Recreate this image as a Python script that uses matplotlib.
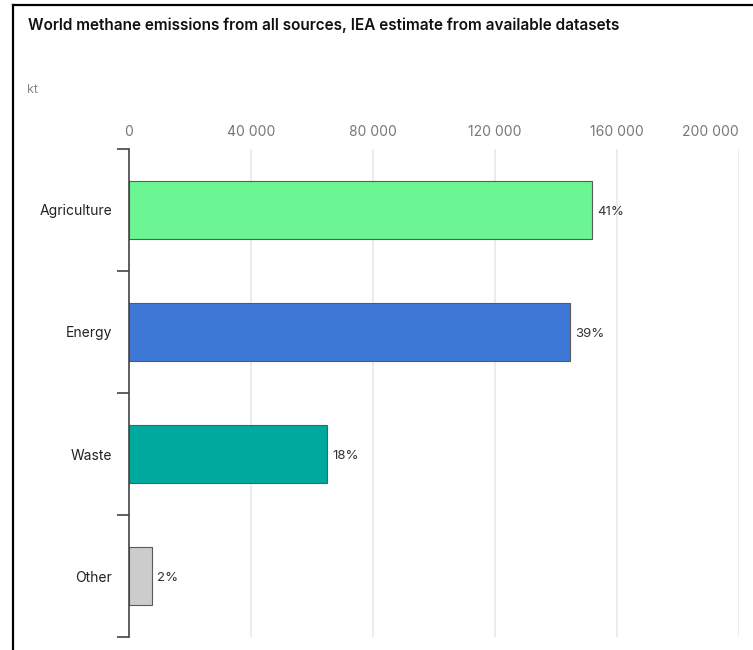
import matplotlib
matplotlib.use("Agg")
import matplotlib.pyplot as plt
from matplotlib.lines import Line2D

plt.rcParams['font.family'] = ['Inter', 'DejaVu Sans']

# Data (kt of methane per source)
categories = ["Agriculture", "Energy", "Waste", "Other"]
emissions_kt = [151700, 144600, 64900, 7400]
shares = ["41%", "39%", "18%", "2%"]
bar_colors = ["#6bf693", "#3d78d6", "#00a99d", "#cccccc"]
x_ticks = [0, 40000, 80000, 120000, 160000, 200000]
x_tick_labels = ["0", "40 000", "80 000", "120 000", "160 000", "200 000"]

W, H = 753, 650
fig = plt.figure(figsize=(W / 100, H / 100), dpi=100)
fig.patch.set_facecolor("white")

left_px, right_px, top_px, bottom_px = 129, 739, 149, 637
ax = fig.add_axes([left_px / W, 1 - bottom_px / H,
                   (right_px - left_px) / W, (bottom_px - top_px) / H])

ypos = list(range(len(categories)))
ax.barh(ypos, emissions_kt, height=0.48, color=bar_colors,
        edgecolor="#5a5a5a", linewidth=0.8, zorder=3)

for y, v, s in zip(ypos, emissions_kt, shares):
    ax.annotate(s, xy=(v, y), xytext=(4, -1.5), textcoords="offset points",
                va="center", ha="left", fontsize=9.5, color="#333333")

ax.set_xlim(0, 200000)
ax.set_ylim(len(categories) - 0.5, -0.5)

# x axis on top, labels only
ax.xaxis.tick_top()
ax.set_xticks(x_ticks)
ax.set_xticklabels(x_tick_labels)
ax.tick_params(axis="x", length=0, pad=7.5, labelsize=10, labelcolor="#777777")
ax.get_xticklabels()[-1].set_horizontalalignment("right")
ax.grid(axis="x", color="#e9e9e9", linewidth=1.2, zorder=0)

# y axis: boundary ticks, category labels in between
ax.set_yticks([i - 0.5 for i in range(len(categories) + 1)])
ax.set_yticklabels([])
ax.tick_params(axis="y", which="major", length=8.5, width=1.2, color="#444444")
ax.set_yticks(ypos, minor=True)
ax.set_yticklabels(categories, minor=True)
ax.tick_params(axis="y", which="minor", length=0, pad=12, labelsize=10,
               labelcolor="#222222")
for lbl in ax.get_yticklabels(minor=True):
    lbl.set_y(lbl.get_position()[1])

for side in ["top", "right", "bottom"]:
    ax.spines[side].set_visible(False)
ax.spines["left"].set_color("#444444")
ax.spines["left"].set_linewidth(1.2)
ax.spines["left"].set_zorder(4)

fig.text(28 / W, 1 - 25 / H,
         "World methane emissions from all sources, IEA estimate from available datasets",
         ha="left", va="center", fontsize=11, fontweight="semibold", color="#111111")
fig.text(27 / W, 1 - 90 / H, "kt", ha="left", va="center", fontsize=9,
         color="#888888")

# frame lines
fig.add_artist(Line2D([12.5 / W, 12.5 / W], [0, 1 - 4.5 / H], color="black",
                      linewidth=1.6, transform=fig.transFigure))
fig.add_artist(Line2D([12.5 / W, 1], [1 - 4.5 / H, 1 - 4.5 / H], color="black",
                      linewidth=1.6, transform=fig.transFigure))

fig.savefig("out.png", dpi=100, facecolor="white")
